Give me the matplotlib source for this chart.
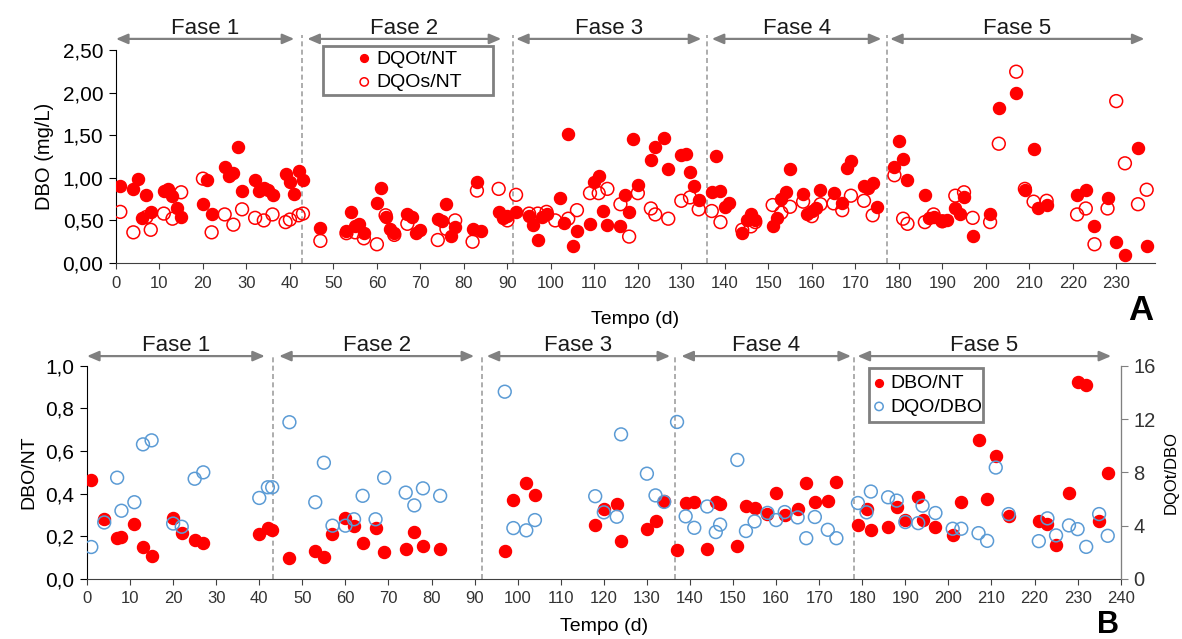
import matplotlib
matplotlib.use("Agg")
import matplotlib.pyplot as plt
from matplotlib.patches import Rectangle

plt.rcParams["font.family"] = ["Liberation Sans", "DejaVu Sans"]

# --------------------------------------------------
# Panel A: DQOt/NT and DQOs/NT
# --------------------------------------------------
dias_t = [1, 4, 5, 6, 7, 8, 11, 12, 13, 14, 15, 20, 21, 22, 25, 26, 27, 28, 29, 32,
          33, 34, 35, 36, 39, 40, 41, 42, 43, 47, 53, 54, 55, 56, 57, 60, 61, 62, 63, 64,
          67, 68, 69, 70, 74, 75, 76, 77, 78, 82, 83, 84, 88, 89, 90, 92, 95, 96, 97, 98,
          99, 102, 103, 104, 105, 106, 109, 110, 111, 112, 113, 116, 117, 118, 119, 120,
          123, 124, 126, 127, 130, 131, 132, 133, 134, 137, 138, 139, 140, 141, 144, 145,
          146, 147, 151, 152, 153, 154, 155, 158, 159, 160, 161, 162, 165, 167, 168, 169,
          172, 173, 174, 175, 179, 180, 181, 182, 186, 187, 188, 190, 191, 193, 194, 195,
          197, 201, 203, 207, 209, 211, 212, 214, 221, 223, 225, 228, 230, 232, 235, 237]
dqot_nt = [0.90, 0.865, 0.99, 0.53, 0.80, 0.60, 0.85, 0.865, 0.79, 0.65, 0.54, 0.69, 0.97,
           0.57, 1.13, 1.02, 1.06, 1.365, 0.85, 0.975, 0.85, 0.885, 0.86, 0.80, 1.04, 0.945,
           0.81, 1.08, 0.975, 0.41, 0.37, 0.60, 0.43, 0.46, 0.35, 0.71, 0.885, 0.535, 0.40,
           0.35, 0.58, 0.54, 0.35, 0.39, 0.52, 0.49, 0.69, 0.32, 0.42, 0.40, 0.95, 0.37, 0.60,
           0.53, 0.55, 0.60, 0.55, 0.45, 0.27, 0.54, 0.58, 0.76, 0.47, 1.515, 0.20, 0.37,
           0.46, 0.95, 1.02, 0.61, 0.45, 0.43, 0.80, 0.60, 1.45, 0.91, 1.21, 1.36, 1.47, 1.10,
           1.27, 1.28, 1.07, 0.90, 0.74, 0.83, 1.26, 0.84, 0.66, 0.71, 0.35, 0.50, 0.57, 0.51,
           0.44, 0.53, 0.75, 0.83, 1.10, 0.81, 0.57, 0.61, 0.65, 0.86, 0.82, 0.70, 1.11, 1.20,
           0.90, 0.88, 0.94, 0.66, 1.13, 1.435, 1.22, 0.97, 0.80, 0.53, 0.54, 0.49, 0.50,
           0.64, 0.57, 0.77, 0.32, 0.58, 1.82, 1.99, 0.86, 1.34, 0.64, 0.68, 0.80, 0.86,
           0.44, 0.76, 0.25, 0.09, 1.35, 0.20]

dias_s = [1, 4, 7, 8, 11, 13, 15, 20, 22, 25, 27, 29, 32, 34, 36, 39, 40, 42, 43, 47, 53,
          55, 57, 60, 62, 64, 67, 74, 76, 78, 82, 83, 88, 90, 92, 95, 97, 99, 101, 104, 106,
          109, 111, 113, 116, 118, 120, 123, 124, 127, 130, 132, 134, 137, 139, 144, 146,
          147, 151, 153, 155, 158, 160, 162, 165, 167, 169, 172, 174, 179, 181, 182, 186,
          188, 190, 193, 195, 197, 201, 203, 207, 209, 211, 214, 221, 223, 225, 228, 230,
          232, 235, 237]
dqos_nt = [0.60, 0.36, 0.54, 0.39, 0.58, 0.52, 0.83, 0.99, 0.36, 0.57, 0.45, 0.63, 0.53,
           0.50, 0.57, 0.48, 0.51, 0.56, 0.58, 0.26, 0.35, 0.36, 0.29, 0.22, 0.56, 0.33,
           0.46, 0.27, 0.40, 0.50, 0.25, 0.85, 0.87, 0.50, 0.80, 0.58, 0.58, 0.60, 0.50,
           0.52, 0.62, 0.82, 0.82, 0.87, 0.69, 0.31, 0.82, 0.64, 0.57, 0.52, 0.73, 0.77,
           0.63, 0.61, 0.48, 0.39, 0.43, 0.48, 0.68, 0.59, 0.66, 0.72, 0.55, 0.69, 0.70,
           0.62, 0.79, 0.73, 0.56, 1.03, 0.52, 0.46, 0.48, 0.57, 0.49, 0.79, 0.83, 0.53,
           0.48, 1.40, 2.245, 0.87, 0.72, 0.73, 0.57, 0.64, 0.22, 0.64, 1.90, 1.17, 0.69, 0.86]

# --------------------------------------------------
# Panel B: DBO/NT (left) and DQO/DBO (right)
# --------------------------------------------------
dias_b = [1, 4, 7, 8, 11, 13, 15, 20, 22, 25, 27, 40, 42, 43, 47, 53, 55, 57, 60, 62, 64,
          67, 69, 74, 76, 78, 82, 97, 99, 102, 104, 118, 120, 123, 124, 130, 132, 134, 137,
          139, 141, 144, 146, 147, 151, 153, 155, 158, 160, 162, 165, 167, 169, 172, 174,
          179, 181, 182, 186, 188, 190, 193, 194, 197, 201, 203, 207, 209, 211, 214, 221,
          223, 225, 228, 230, 232, 235, 237]
dbo_nt = [0.466, 0.28, 0.19, 0.195, 0.256, 0.15, 0.11, 0.285, 0.215, 0.185, 0.17, 0.21,
          0.24, 0.23, 0.10, 0.13, 0.105, 0.21, 0.285, 0.25, 0.17, 0.24, 0.125, 0.14, 0.218,
          0.155, 0.14, 0.129, 0.37, 0.45, 0.392, 0.255, 0.33, 0.35, 0.176, 0.234, 0.27,
          0.364, 0.134, 0.355, 0.36, 0.139, 0.36, 0.35, 0.155, 0.34, 0.335, 0.305, 0.405,
          0.30, 0.33, 0.452, 0.363, 0.367, 0.457, 0.251, 0.328, 0.231, 0.242, 0.336, 0.278,
          0.385, 0.278, 0.246, 0.207, 0.361, 0.653, 0.377, 0.575, 0.294, 0.272, 0.259,
          0.159, 0.405, 0.923, 0.909, 0.27, 0.496]
dqo_dbo = [2.4, 4.24, 7.6, 5.12, 5.76, 10.1, 10.4, 4.16, 3.92, 7.52, 8.0, 6.08, 6.88, 6.88,
           11.76, 5.76, 8.72, 4.0, 4.0, 4.48, 6.24, 4.48, 7.6, 6.48, 5.52, 6.8, 6.24, 14.05,
           3.82, 3.65, 4.42, 6.21, 5.0, 4.67, 10.85, 7.9, 6.27, 5.78, 11.78, 4.7, 3.84, 5.44,
           3.52, 4.08, 8.93, 3.6, 4.32, 4.96, 4.42, 5.02, 4.62, 3.06, 4.65, 3.69, 3.06, 5.70,
           5.0, 6.56, 6.13, 5.88, 4.27, 4.19, 5.5, 4.95, 3.77, 3.77, 3.44, 2.86, 8.36, 4.87,
           2.84, 4.55, 3.27, 4.02, 3.74, 2.41, 4.87, 3.24]

fases = ["Fase 1", "Fase 2", "Fase 3", "Fase 4", "Fase 5"]
limites_a = [42.7, 91.2, 135.8, 177.3]
setas_a = [(0, 41), (44, 88.6), (92, 134.6), (137, 176), (178, 236.5)]
limites_b = [43.3, 91.6, 136.5, 178.1]
setas_b = [(0, 41.3), (44.6, 89.9), (92.8, 135.4), (138, 177.4), (178.9, 237.8)]

RED = "#FF0000"
BLUE = "#5B9BD5"
GRAY = "#808080"
W, H = 1182, 639


def fmt_comma(v, dec):
    return f"{v:.{dec}f}".replace(".", ",")


def draw_phases(ax, limites, setas, y_arrow, y_text, y_line):
    for x in limites:
        ax.axvline(x, ymin=0, ymax=y_line, color="#A0A0A0", ls=(0, (3, 2)),
                   lw=1.2, clip_on=False, zorder=1)
    for nome, (x0, x1) in zip(fases, setas):
        ax.annotate("", xy=(x1, y_arrow), xytext=(x0, y_arrow),
                    xycoords=("data", "axes fraction"),
                    textcoords=("data", "axes fraction"),
                    arrowprops=dict(arrowstyle="<|-|>,head_length=0.7,head_width=0.3",
                                    color=GRAY, lw=1.6, shrinkA=0, shrinkB=0),
                    annotation_clip=False)
        ax.text((x0 + x1) / 2, y_text, nome, transform=ax.get_xaxis_transform(),
                ha="center", va="center", fontsize=16, color="#1a1a1a")


def boxed_legend(ax, handles, labels, box_px):
    # box_px: (left, top, right, bottom) in pixels from the top-left corner
    l, t, r, b = box_px
    fig.add_artist(Rectangle((l / W, 1 - b / H), (r - l) / W, (b - t) / H,
                             transform=fig.transFigure, fill=False,
                             edgecolor=GRAY, lw=2, zorder=5))
    leg = ax.legend(handles, labels, loc="center",
                    bbox_to_anchor=((l + r) / 2 / W, 1 - (t + b) / 2 / H),
                    bbox_transform=fig.transFigure, frameon=False, fontsize=14,
                    handletextpad=0.1, borderpad=0, labelspacing=0.3,
                    markerscale=0.65, handlelength=1.0)
    return leg


fig = plt.figure(figsize=(11.82, 6.39), dpi=100)

# ---------------- Panel A ----------------
axA = fig.add_axes([0.0981, 0.5884, 0.879, 0.3334])
axA.scatter(dias_t, dqot_nt, s=75, color=RED, edgecolors=RED, zorder=3,
            label="DQOt/NT")
axA.scatter(dias_s, dqos_nt, s=85, facecolors="none", edgecolors=RED,
            linewidths=1.1, zorder=3, label="DQOs/NT")
axA.set_xlim(0, 238.9)
axA.set_ylim(0, 2.5)
axA.set_xticks(range(0, 231, 10))
axA.set_xticklabels([str(v) for v in range(0, 231, 10)], fontsize=12, color="#333333")
yt = [0, 0.5, 1.0, 1.5, 2.0, 2.5]
axA.set_yticks(yt)
axA.set_yticklabels([fmt_comma(v, 2) for v in yt], fontsize=15)
axA.spines[["top", "right"]].set_visible(False)
axA.spines["bottom"].set_color("#404040")
axA.tick_params(axis="x", length=4, color="#404040", pad=5)
axA.tick_params(axis="y", length=5, pad=4)
axA.set_ylabel("DBO (mg/L)", fontsize=14.5, labelpad=6)
axA.set_xlabel("Tempo (d)", fontsize=14, labelpad=15)
draw_phases(axA, limites_a, setas_a, 1.052, 1.103, 1.07)
hA, lA = axA.get_legend_handles_labels()
boxed_legend(axA, hA, lA, (323, 46, 493, 95))
fig.text(1141 / W, 1 - 310 / H, "A", fontsize=25, fontweight="heavy",
         ha="center", va="center")

# ---------------- Panel B ----------------
axB = fig.add_axes([0.0736, 0.0939, 0.8745, 0.3338])
axB2 = axB.twinx()
axB.scatter(dias_b, dbo_nt, s=75, color=RED, edgecolors=RED, zorder=3, label="DBO/NT")
axB2.scatter(dias_b, dqo_dbo, s=85, facecolors="none", edgecolors=BLUE,
             linewidths=1.1, zorder=3, label="DQO/DBO")
axB.set_xlim(0, 240)
axB.set_ylim(0, 1.0)
axB2.set_ylim(0, 16)
axB.set_xticks(range(0, 241, 10))
axB.set_xticklabels([str(v) for v in range(0, 241, 10)], fontsize=12, color="#333333")
ytb = [0, 0.2, 0.4, 0.6, 0.8, 1.0]
axB.set_yticks(ytb)
axB.set_yticklabels([fmt_comma(v, 1) for v in ytb], fontsize=15)
axB2.set_yticks([0, 4, 8, 12, 16])
axB2.set_yticklabels(["0", "4", "8", "12", "16"], fontsize=14.5, color="#333333")
axB.spines["top"].set_visible(False)
axB2.spines["top"].set_visible(False)
axB2.spines["left"].set_visible(False)
axB2.spines["bottom"].set_visible(False)
axB2.spines["right"].set_color(GRAY)
axB2.tick_params(axis="y", length=5, color=GRAY, pad=4)
axB.spines["bottom"].set_color("#404040")
axB.tick_params(axis="x", length=4, color="#404040", pad=5)
axB.tick_params(axis="y", length=5, pad=4)
axB.set_ylabel("DBO/NT", fontsize=14, labelpad=6)
axB2.set_ylabel("DQOt/DBO", fontsize=12, labelpad=6)
axB.set_xlabel("Tempo (d)", fontsize=14, labelpad=8)
draw_phases(axB, limites_b, setas_b, 1.045, 1.097, 1.04)
h1, l1 = axB.get_legend_handles_labels()
h2, l2 = axB2.get_legend_handles_labels()
boxed_legend(axB2, h1 + h2, l1 + l2, (869, 368, 983, 422))
fig.text(1108 / W, 1 - 625 / H, "B", fontsize=22, fontweight="heavy",
         ha="center", va="center")

fig.savefig("out.png", dpi=100)
